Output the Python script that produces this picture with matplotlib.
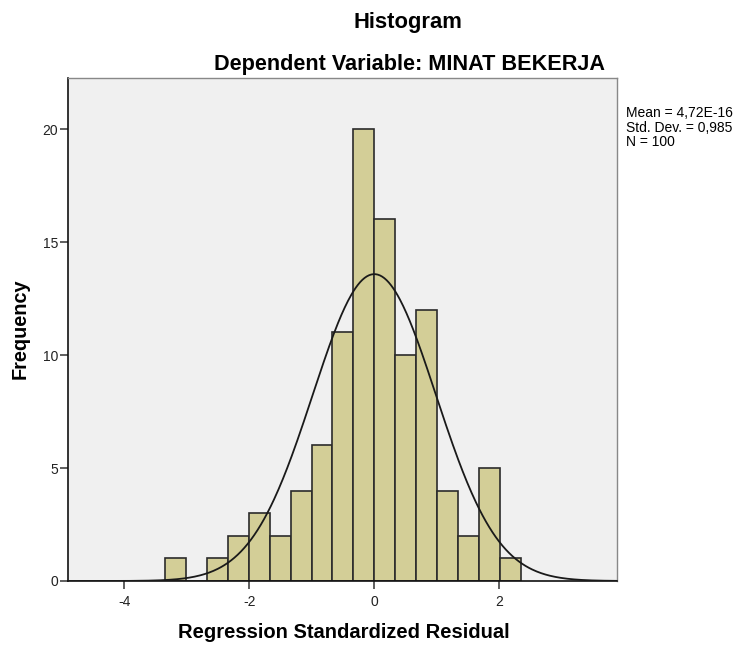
import numpy as np
import matplotlib
matplotlib.use("Agg")
import matplotlib.pyplot as plt

# data
bin_start = -3.351
bin_width = 0.3353
counts = [1, 0, 1, 2, 3, 2, 4, 6, 11, 20, 16, 10, 12, 4, 2, 5, 1]
mean_val = 0.0
sd_val = 0.985
n_val = 100
x_ticks = [-4, -2, 0, 2]
y_ticks = [0, 5, 10, 15, 20]

plt.rcParams['font.family'] = ['Liberation Sans', 'DejaVu Sans']
plt.rcParams['axes.unicode_minus'] = False

fig = plt.figure(figsize=(7.42, 6.46), dpi=100)
W, H = 742, 646
l, r, t, b = 68, 617, 78, 581
ax = fig.add_axes([l / W, 1 - b / H, (r - l) / W, (b - t) / H])
ax.set_facecolor('#F0F0F0')

edges = bin_start + bin_width * np.arange(len(counts) + 1)
ax.bar(edges[:-1], counts, width=bin_width, align='edge',
       color='#D3CE97', edgecolor='#2b2b2b', linewidth=1.2, zorder=2)

xs = np.linspace(-4.9, 3.9, 500)
ys = n_val * bin_width / (sd_val * np.sqrt(2 * np.pi)) * np.exp(-0.5 * ((xs - mean_val) / sd_val) ** 2)
ax.plot(xs, ys, color='#1a1a1a', linewidth=1.3, zorder=3)

ax.set_xlim(-4.897, 3.88)
ax.set_ylim(0, 22.26)
ax.set_xticks(x_ticks)
ax.set_yticks(y_ticks)
ax.tick_params(axis='both', direction='out', length=6, width=1.2, labelsize=10, colors='#444444',
               labelcolor='#222222')
ax.tick_params(axis='x', pad=4)
ax.tick_params(axis='y', pad=1)
ax.tick_params(top=False, right=False)
for s in ['left', 'bottom']:
    ax.spines[s].set_color('#111111')
    ax.spines[s].set_linewidth(1.2)
for s in ['top', 'right']:
    ax.spines[s].set_color('#888888')
    ax.spines[s].set_linewidth(1.0)

xl = ax.set_xlabel('Regression Standardized Residual', fontsize=14.5, fontweight='bold')
yl = ax.set_ylabel('Frequency', fontsize=14.3, fontweight='bold')
xl.set_va('center')
yl.set_va('center')
ax.xaxis.set_label_coords((343.5 - l) / (r - l), (b - 632) / (b - t))
ax.yaxis.set_label_coords((20 - l) / (r - l), (b - 329) / (b - t))

fig.text(408 / W, 1 - 28 / H, 'Histogram', ha='center', va='baseline', fontsize=15.8, fontweight='bold')
fig.text(410 / W, 1 - 70 / H, 'Dependent Variable: MINAT BEKERJA', ha='center', va='baseline',
         fontsize=15.6, fontweight='bold')
fig.text(626 / W, 1 - 106 / H,
         'Mean = 4,72E-16\nStd. Dev. = 0,985\nN = 100',
         ha='left', va='top', fontsize=10, linespacing=1.05)

fig.savefig('out.png', dpi=100, facecolor='white')
